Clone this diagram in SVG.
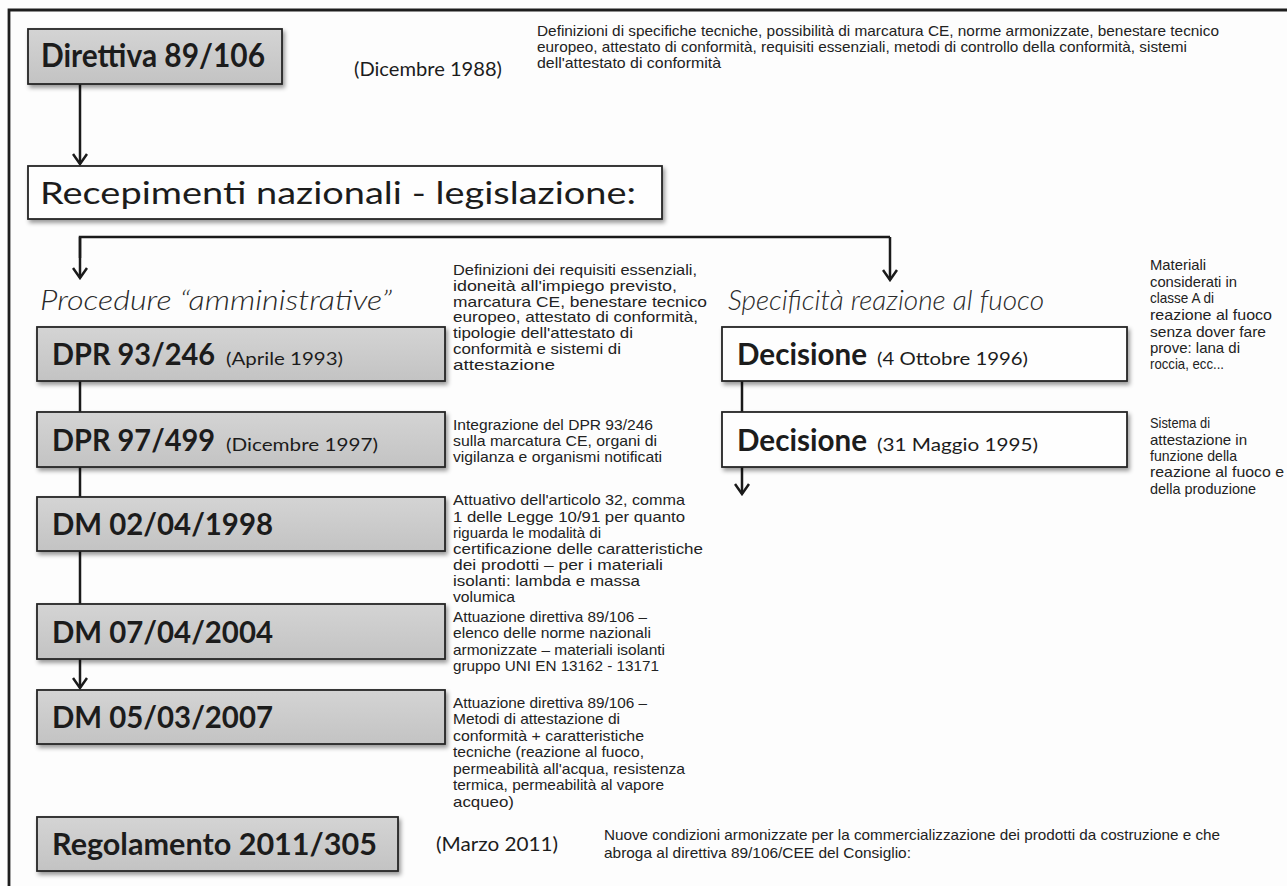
<svg xmlns="http://www.w3.org/2000/svg" width="1287" height="886" viewBox="0 0 1287 886">
<style>
.bg{fill:#fdfdfd}
.frame{stroke:#1e1e1e;stroke-width:2.8;fill:none}
.gbox{fill:url(#gray);stroke:#262626;stroke-width:1.8;filter:url(#sh)}
.wbox{fill:#fefefe;stroke:#262626;stroke-width:1.8;filter:url(#sh)}
.t{font-family:Lato,"Liberation Sans",sans-serif;font-weight:700;fill:#1c1c1c}
.d{font-family:Lato,"Liberation Sans",sans-serif;font-weight:400;fill:#1c1c1c}
.h{font-family:Lato,"Liberation Sans",sans-serif;font-style:italic;font-weight:300;fill:#2a2a2a;font-size:27px}
.s{font-family:"Liberation Sans",Arial,sans-serif;font-size:15px;fill:#222}
.s2{font-family:"Liberation Sans",Arial,sans-serif;font-size:14.5px;fill:#222}
.c{stroke:#1a1a1a;stroke-width:2.5;fill:none}
.ca{stroke:#1a1a1a;stroke-width:2.5;fill:none;marker-end:url(#arr)}
</style>
<defs>
<linearGradient id="gray" x1="0" y1="0" x2="0" y2="1">
<stop offset="0" stop-color="#d4d4d4"/>
<stop offset="1" stop-color="#c3c3c3"/>
</linearGradient>
<filter id="sh" x="-5%" y="-20%" width="112%" height="150%">
<feDropShadow dx="2" dy="3" stdDeviation="2" flood-color="#000" flood-opacity="0.4"/>
</filter>
<marker id="arr" viewBox="-12 -8 14 16" refX="0" refY="0" markerWidth="14" markerHeight="16" orient="auto" markerUnits="userSpaceOnUse">
<path d="M-10,-7 L0,0 L-10,7" stroke="#1a1a1a" stroke-width="2.5" fill="none"/>
</marker>
</defs>
<rect class="bg" x="0" y="0" width="1287" height="886"/>
<path class="frame" d="M1287,10 L9,10 L9,886"/>

<g id="connectors">
<path class="ca" d="M80,84 L80,164"/>
<path class="c" d="M80,258 L80,237 L890,237"/>
<path class="ca" d="M80,237 L80,278"/>
<path class="ca" d="M890,237 L890,280"/>
<path class="c" d="M80,381 L80,412"/>
<path class="c" d="M80,467 L80,497"/>
<path class="c" d="M80,551 L80,604"/>
<path class="ca" d="M80,659 L80,688"/>
<path class="c" d="M742,381 L742,412"/>
<path class="ca" d="M742,467 L742,494"/>
</g>

<g id="direttiva">
<rect class="gbox" x="28" y="29" width="254" height="55"/>
<text class="t" x="41" y="67" font-size="32" textLength="224" lengthAdjust="spacingAndGlyphs">Direttiva 89/106</text>
<text class="d" x="354" y="76" font-size="19" textLength="148" lengthAdjust="spacingAndGlyphs">(Dicembre 1988)</text>
<g class="s2">
<text x="537" y="36" textLength="682" lengthAdjust="spacingAndGlyphs">Definizioni di specifiche tecniche, possibilità di marcatura CE, norme armonizzate, benestare tecnico</text>
<text x="537" y="52" textLength="650" lengthAdjust="spacingAndGlyphs">europeo, attestato di conformità, requisiti essenziali, metodi di controllo della conformità, sistemi</text>
<text x="537" y="68" textLength="184" lengthAdjust="spacingAndGlyphs">dell'attestato di conformità</text>
</g>
</g>

<g id="recepimenti">
<rect class="wbox" x="28" y="166" width="634" height="53"/>
<text class="d" x="40" y="204" font-size="31" textLength="596" lengthAdjust="spacingAndGlyphs">Recepimenti  nazionali - legislazione:</text>
</g>

<g id="procedure">
<text class="h" x="40" y="310" textLength="352" lengthAdjust="spacingAndGlyphs">Procedure “amministrative”</text>
</g>

<g id="specificita">
<text class="h" x="728" y="310" textLength="316" lengthAdjust="spacingAndGlyphs">Specificità reazione al fuoco</text>
</g>

<g id="dpr93">
<rect class="gbox" x="37" y="327" width="408" height="54"/>
<text class="t" x="52" y="365" font-size="31" textLength="163" lengthAdjust="spacingAndGlyphs">DPR 93/246</text>
<text class="d" x="226" y="365" font-size="17" textLength="117" lengthAdjust="spacingAndGlyphs">(Aprile 1993)</text>
<g class="s">
<text x="453" y="275" textLength="244" lengthAdjust="spacingAndGlyphs">Definizioni dei requisiti essenziali,</text>
<text x="453" y="291" textLength="224" lengthAdjust="spacingAndGlyphs">idoneità all'impiego previsto,</text>
<text x="453" y="307" textLength="254" lengthAdjust="spacingAndGlyphs">marcatura CE, benestare tecnico</text>
<text x="453" y="322" textLength="245" lengthAdjust="spacingAndGlyphs">europeo, attestato di conformità,</text>
<text x="453" y="338" textLength="180" lengthAdjust="spacingAndGlyphs">tipologie dell'attestato di</text>
<text x="453" y="354" textLength="168" lengthAdjust="spacingAndGlyphs">conformità e sistemi di</text>
<text x="453" y="370" textLength="102" lengthAdjust="spacingAndGlyphs">attestazione</text>
</g>
</g>

<g id="dpr97">
<rect class="gbox" x="37" y="412" width="408" height="55"/>
<text class="t" x="52" y="451" font-size="31" textLength="163" lengthAdjust="spacingAndGlyphs">DPR 97/499</text>
<text class="d" x="226" y="451" font-size="17" textLength="152" lengthAdjust="spacingAndGlyphs">(Dicembre 1997)</text>
<g class="s">
<text x="453" y="430" textLength="200" lengthAdjust="spacingAndGlyphs">Integrazione del DPR 93/246</text>
<text x="453" y="446" textLength="204" lengthAdjust="spacingAndGlyphs">sulla marcatura CE, organi di</text>
<text x="453" y="462" textLength="209" lengthAdjust="spacingAndGlyphs">vigilanza e organismi notificati</text>
</g>
</g>

<g id="dm1998">
<rect class="gbox" x="37" y="497" width="408" height="54"/>
<text class="t" x="52" y="535" font-size="31" textLength="221" lengthAdjust="spacingAndGlyphs">DM 02/04/1998</text>
<g class="s">
<text x="453" y="505" textLength="232" lengthAdjust="spacingAndGlyphs">Attuativo dell'articolo 32, comma</text>
<text x="453" y="522" textLength="232" lengthAdjust="spacingAndGlyphs">1 delle Legge 10/91 per quanto</text>
<text x="453" y="538" textLength="148" lengthAdjust="spacingAndGlyphs">riguarda le modalità di</text>
<text x="453" y="554" textLength="250" lengthAdjust="spacingAndGlyphs">certificazione delle caratteristiche</text>
<text x="453" y="570" textLength="210" lengthAdjust="spacingAndGlyphs">dei prodotti – per i materiali</text>
<text x="453" y="586" textLength="187" lengthAdjust="spacingAndGlyphs">isolanti: lambda e massa</text>
<text x="453" y="602" textLength="62" lengthAdjust="spacingAndGlyphs">volumica</text>
</g>
</g>

<g id="dm2004">
<rect class="gbox" x="37" y="604" width="408" height="55"/>
<text class="t" x="52" y="643" font-size="31" textLength="221" lengthAdjust="spacingAndGlyphs">DM 07/04/2004</text>
<g class="s">
<text x="453" y="622" textLength="194" lengthAdjust="spacingAndGlyphs">Attuazione direttiva 89/106 –</text>
<text x="453" y="638" textLength="198" lengthAdjust="spacingAndGlyphs">elenco delle norme nazionali</text>
<text x="453" y="655" textLength="212" lengthAdjust="spacingAndGlyphs">armonizzate – materiali isolanti</text>
<text x="453" y="671" textLength="206" lengthAdjust="spacingAndGlyphs">gruppo UNI  EN 13162 - 13171</text>
</g>
</g>

<g id="dm2007">
<rect class="gbox" x="37" y="690" width="408" height="54"/>
<text class="t" x="52" y="728" font-size="31" textLength="221" lengthAdjust="spacingAndGlyphs">DM 05/03/2007</text>
<g class="s">
<text x="453" y="708" textLength="194" lengthAdjust="spacingAndGlyphs">Attuazione direttiva 89/106 –</text>
<text x="453" y="724" textLength="167" lengthAdjust="spacingAndGlyphs">Metodi di attestazione di</text>
<text x="453" y="741" textLength="191" lengthAdjust="spacingAndGlyphs">conformità +  caratteristiche</text>
<text x="453" y="757" textLength="191" lengthAdjust="spacingAndGlyphs">tecniche (reazione al fuoco,</text>
<text x="453" y="774" textLength="232" lengthAdjust="spacingAndGlyphs">permeabilità all'acqua,  resistenza</text>
<text x="453" y="790" textLength="211" lengthAdjust="spacingAndGlyphs">termica, permeabilità al vapore</text>
<text x="453" y="807" textLength="61" lengthAdjust="spacingAndGlyphs">acqueo)</text>
</g>
</g>

<g id="regolamento">
<rect class="gbox" x="37" y="817" width="361" height="54"/>
<text class="t" x="52" y="855" font-size="31" textLength="325" lengthAdjust="spacingAndGlyphs">Regolamento 2011/305</text>
<text class="d" x="436" y="851" font-size="20" textLength="122" lengthAdjust="spacingAndGlyphs">(Marzo 2011)</text>
<g class="s2">
<text x="604" y="840" textLength="616" lengthAdjust="spacingAndGlyphs">Nuove condizioni armonizzate per la commercializzazione dei prodotti da costruzione e che</text>
<text x="604" y="858" textLength="307" lengthAdjust="spacingAndGlyphs">abroga al direttiva 89/106/CEE del Consiglio:</text>
</g>
</g>

<g id="decisione1996">
<rect class="wbox" x="722" y="327" width="405" height="54"/>
<text class="t" x="737" y="365" font-size="31" textLength="130" lengthAdjust="spacingAndGlyphs">Decisione</text>
<text class="d" x="877" y="365" font-size="17" textLength="151" lengthAdjust="spacingAndGlyphs">(4 Ottobre 1996)</text>
<g class="s">
<text x="1150" y="270" textLength="56" lengthAdjust="spacingAndGlyphs">Materiali</text>
<text x="1150" y="287" textLength="87" lengthAdjust="spacingAndGlyphs">considerati in</text>
<text x="1150" y="303" textLength="64" lengthAdjust="spacingAndGlyphs">classe A di</text>
<text x="1150" y="320" textLength="122" lengthAdjust="spacingAndGlyphs">reazione al fuoco</text>
<text x="1150" y="337" textLength="116" lengthAdjust="spacingAndGlyphs">senza dover fare</text>
<text x="1150" y="353" textLength="90" lengthAdjust="spacingAndGlyphs">prove: lana di</text>
<text x="1150" y="369" textLength="74" lengthAdjust="spacingAndGlyphs">roccia, ecc...</text>
</g>
</g>

<g id="decisione1995">
<rect class="wbox" x="722" y="412" width="405" height="55"/>
<text class="t" x="737" y="451" font-size="31" textLength="130" lengthAdjust="spacingAndGlyphs">Decisione</text>
<text class="d" x="877" y="451" font-size="17" textLength="161" lengthAdjust="spacingAndGlyphs">(31 Maggio 1995)</text>
<g class="s">
<text x="1150" y="428" textLength="60" lengthAdjust="spacingAndGlyphs">Sistema di</text>
<text x="1150" y="445" textLength="97" lengthAdjust="spacingAndGlyphs">attestazione in</text>
<text x="1150" y="461" textLength="87" lengthAdjust="spacingAndGlyphs">funzione della</text>
<text x="1150" y="477" textLength="134" lengthAdjust="spacingAndGlyphs">reazione al fuoco e</text>
<text x="1150" y="494" textLength="106" lengthAdjust="spacingAndGlyphs">della produzione</text>
</g>
</g>
</svg>
